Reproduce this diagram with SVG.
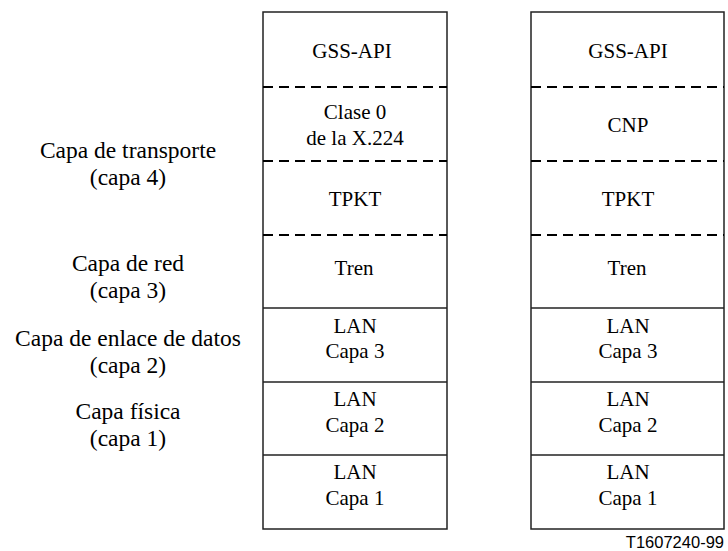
<svg xmlns="http://www.w3.org/2000/svg" width="728" height="551" viewBox="0 0 728 551">
<style>
text{font-family:"Liberation Serif","Times New Roman",serif;font-size:21px;fill:#000;text-anchor:middle}
.lbl text{font-size:23.5px}
.box{fill:#fff;stroke:#222;stroke-width:1.5}
.solid{stroke:#222;stroke-width:1.5}
.dash{stroke:#000;stroke-width:2;stroke-dasharray:10,6}
.ref{font-family:"Liberation Sans",Arial,sans-serif;font-size:16.5px;text-anchor:end}
</style>
<rect width="728" height="551" fill="#fff"/>
<g id="labels" class="lbl">
<g id="lbl-transporte"><text x="128" y="158">Capa de transporte</text><text x="128" y="185">(capa 4)</text></g>
<g id="lbl-red"><text x="128" y="271">Capa de red</text><text x="128" y="298">(capa 3)</text></g>
<g id="lbl-enlace"><text x="128" y="346">Capa de enlace de datos</text><text x="128" y="373">(capa 2)</text></g>
<g id="lbl-fisica"><text x="128" y="419">Capa física</text><text x="128" y="446">(capa 1)</text></g>
</g>
<g id="stack-left">
<rect class="box" x="263" y="12" width="184" height="517"/>
<line class="dash" x1="263" y1="87" x2="447" y2="87"/>
<line class="dash" x1="263" y1="161" x2="447" y2="161"/>
<line class="dash" x1="263" y1="235" x2="447" y2="235"/>
<line class="solid" x1="263" y1="308" x2="447" y2="308"/>
<line class="solid" x1="263" y1="382" x2="447" y2="382"/>
<line class="solid" x1="263" y1="455" x2="447" y2="455"/>
<g id="l-gss"><text x="352" y="58">GSS-API</text></g>
<g id="l-clase"><text x="355" y="119">Clase 0</text><text x="355" y="145">de la X.224</text></g>
<g id="l-tpkt"><text x="355" y="206">TPKT</text></g>
<g id="l-tren"><text x="354" y="275">Tren</text></g>
<g id="l-lan3"><text x="355" y="333">LAN</text><text x="355" y="358">Capa 3</text></g>
<g id="l-lan2"><text x="355" y="406">LAN</text><text x="355" y="432">Capa 2</text></g>
<g id="l-lan1"><text x="355" y="479">LAN</text><text x="355" y="505">Capa 1</text></g>
</g>
<g id="stack-right">
<rect class="box" x="531" y="12" width="193" height="517"/>
<line class="dash" x1="531" y1="87" x2="724" y2="87"/>
<line class="dash" x1="531" y1="161" x2="724" y2="161"/>
<line class="dash" x1="531" y1="235" x2="724" y2="235"/>
<line class="solid" x1="531" y1="308" x2="724" y2="308"/>
<line class="solid" x1="531" y1="382" x2="724" y2="382"/>
<line class="solid" x1="531" y1="455" x2="724" y2="455"/>
<g id="r-gss"><text x="628" y="58">GSS-API</text></g>
<g id="r-cnp"><text x="628" y="132">CNP</text></g>
<g id="r-tpkt"><text x="628" y="206">TPKT</text></g>
<g id="r-tren"><text x="627" y="275">Tren</text></g>
<g id="r-lan3"><text x="628" y="333">LAN</text><text x="628" y="358">Capa 3</text></g>
<g id="r-lan2"><text x="628" y="406">LAN</text><text x="628" y="432">Capa 2</text></g>
<g id="r-lan1"><text x="628" y="479">LAN</text><text x="628" y="505">Capa 1</text></g>
</g>
<g id="connectors"></g>
<text class="ref" x="724" y="548">T1607240-99</text>
</svg>
